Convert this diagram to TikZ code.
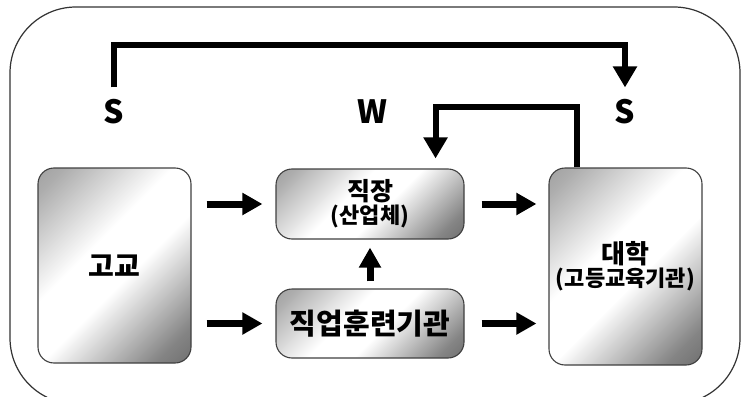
\documentclass[tikz,border=0pt]{standalone}
\usepackage{fontspec}
\setmainfont{Noto Sans CJK KR}
\usetikzlibrary{arrows.meta}
\pgfdeclareverticalshading{boxshade}{100bp}{color(0bp)=(black!72); color(22bp)=(black!48); color(45bp)=(white); color(58bp)=(white); color(80bp)=(black!32); color(100bp)=(black!50)}
\begin{document}
\begin{tikzpicture}[x=1pt,y=-1pt,
  box/.style={draw=black!75, line width=1.1pt, rounded corners=16pt,
    shading=boxshade, shading angle=45,
    inner sep=0pt, align=center, font=\bfseries},
  bigarrow/.style={line width=7pt, -{Triangle[width=21pt,length=20pt]}},
  elbow/.style={line width=6pt, -{Triangle[width=23pt,length=21pt]}},
  lbl/.style={font=\bfseries\fontsize{32}{32}\selectfont, inner sep=0pt}]
\useasboundingbox (0,0) rectangle (741,396);
\draw[black!80, line width=1.2pt, rounded corners=66pt] (10,7) rectangle (740,404);
% boxes
\node[box, minimum width=153pt, minimum height=195pt] (hs) at (114.5,265.5)
  {\fontsize{28}{28}\selectfont 고교};
\node[box, minimum width=188pt, minimum height=70pt] (job) at (370,204)
  {\fontsize{25}{25}\selectfont 직장\\[1pt]\fontsize{22}{22}\selectfont (산업체)};
\node[box, minimum width=188pt, minimum height=69pt] (trn) at (370,323.5)
  {\fontsize{29}{29}\selectfont 직업훈련기관};
\node[box, minimum width=153pt, minimum height=197pt] (uni) at (625.5,266.5)
  {\fontsize{26}{26}\selectfont 대학\\[1pt]\fontsize{22}{22}\selectfont (고등교육기관)};
% labels
\node[lbl] (sl) at (114,112) {S};
\node[lbl] (w) at (372,112) {W};
\node[lbl] (sr) at (625,112) {S};
% horizontal arrows
\draw[bigarrow] ([xshift=15pt]hs.east |- job.center) -- ([xshift=-13pt]job.west);
\draw[bigarrow] ([xshift=15pt]hs.east |- trn.center) -- ([xshift=-13pt]trn.west);
\draw[bigarrow] ([xshift=17pt]job.east) -- ([xshift=-12pt]uni.west |- job.center);
\draw[bigarrow] ([xshift=17pt]trn.east) -- ([xshift=-12pt]uni.west |- trn.center);
\draw[bigarrow] ([yshift=7pt]trn.north) -- ([yshift=-8pt]job.south);
% top elbow arrow S -> S
\coordinate (tl) at (sl.north |- 0,45);
\coordinate (tr) at (sr.north |- 0,45);
\draw[elbow] ([yshift=12pt]sl.north) -- (tl) -- (tr) -- ([yshift=12pt]sr.north);
% feedback elbow uni -> job
\coordinate (fa) at ([xshift=29pt]uni.north west);
\coordinate (fb) at ([xshift=-29pt]job.north east);
\draw[elbow] (fa) -- (fa |- 0,107) -- (fb |- 0,107) -- ([yshift=10pt]fb);
\end{tikzpicture}
\end{document}
